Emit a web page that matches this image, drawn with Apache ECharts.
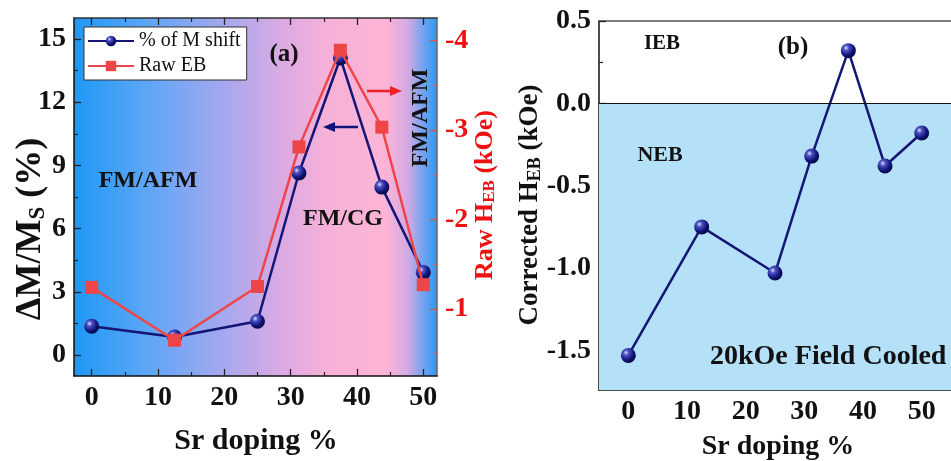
<!DOCTYPE html>
<html>
<head>
<meta charset="utf-8">
<script src="https://cdn.jsdelivr.net/npm/echarts@6/dist/echarts.min.js"></script>
<style>
html,body{margin:0;padding:0;background:#fff;}
#chart{width:951px;height:461px;}
</style>
</head>
<body>
<div id="chart"></div>
<script>
// ---------- data ----------
const srDoping = [0, 12.5, 25, 31.25, 37.5, 43.75, 50];
const mShift = [1.36, 0.85, 1.6, 8.64, 14.1, 7.97, 3.92];          // % of M shift (left axis, panel a)
const rawEB = [-1.24, -0.65, -1.25, -2.81, -3.89, -3.03, -1.27];    // Raw H_EB kOe (right axis, panel a)
const correctedHEB = [-1.53, -0.75, -1.03, -0.32, 0.32, -0.38, -0.18]; // panel b

const xTicksA = [0, 10, 20, 30, 40, 50];
const xMinorA = [5, 15, 25, 35, 45];
const yTicksLeftA = [0, 3, 6, 9, 12, 15];
const yMinorLeftA = [1.5, 4.5, 7.5, 10.5, 13.5];
const yTicksRightA = [-4, -3, -2, -1];
const yMinorRightA = [-3.5, -2.5, -1.5, -0.5];
const xTicksB = [0, 10, 20, 30, 40, 50];
const xMinorB = [5, 15, 25, 35, 45];
const yTicksB = [-1.5, -1.0, -0.5, 0.0, 0.5];
const yMinorB = [-1.25, -0.75, -0.25, 0.25];

const xRangeA = [-2.67, 52.07];
const yRangeLeftA = [-1, 16];
const yRangeRightA = [-4.25, -0.25];
const xRangeB = [-5, 55];
const yRangeB = [-1.74, 0.5];

const FONT = "'Liberation Serif', 'Times New Roman', serif";
const NAVY = '#131675';
const RED = '#EE4646';

const pair = (a, b) => a.map((v, i) => [v, b[i]]);

const sphere = {
  type: 'radial', x: 0.35, y: 0.32, r: 0.7,
  colorStops: [
    {offset: 0, color: '#dfe2ff'},
    {offset: 0.25, color: '#4e53c4'},
    {offset: 0.7, color: '#10147a'},
    {offset: 1, color: '#060840'}
  ]
};

const bgA = {
  type: 'linear', x: 0, y: 0, x2: 1, y2: 0,
  colorStops: [
    {offset: 0, color: '#1E98F5'},
    {offset: 0.2, color: '#5DA6F6'},
    {offset: 0.42, color: '#A8A8EE'},
    {offset: 0.58, color: '#DDAAE2'},
    {offset: 0.7, color: '#F6B1D8'},
    {offset: 0.86, color: '#FDB4D6'},
    {offset: 0.92, color: '#D2AAE4'},
    {offset: 0.965, color: '#6CA2F0'},
    {offset: 1, color: '#2C9AF4'}
  ]
};

const tickLabel = {fontFamily: FONT, fontWeight: 'bold', fontSize: 28, color: '#111'};

function mainX(gridIndex, range, labels, ticks, pos, showLabel, lineColor) {
  return {
    type: 'value', gridIndex, position: pos, min: range[0], max: range[1],
    axisLine: {show: true, onZero: false, lineStyle: {color: lineColor, width: 1.5}},
    axisTick: {show: true, inside: true, length: 7, customValues: ticks, lineStyle: {color: '#222', width: 1.3}},
    axisLabel: Object.assign({show: showLabel, margin: 8, customValues: labels}, tickLabel),
    splitLine: {show: false}
  };
}
function minorAxis(gridIndex, range, ticks, pos, inverse, color) {
  return {
    type: 'value', gridIndex, position: pos, min: range[0], max: range[1], inverse: !!inverse,
    axisLine: {show: false, onZero: false},
    axisTick: {show: true, inside: true, length: 4, customValues: ticks, lineStyle: {color: color || '#222', width: 1.2}},
    axisLabel: {show: false},
    splitLine: {show: false}
  };
}

const option = {
  animation: false,
  backgroundColor: '#fff',
  grid: [
    {left: 74, top: 18, width: 363, height: 358, show: true, backgroundColor: bgA, borderWidth: 0},
    {left: 599, top: 21, width: 363, height: 369, show: false}
  ],
  legend: {
    left: 84, top: 27, orient: 'vertical',
    data: ['% of M shift', 'Raw EB'],
    backgroundColor: '#fff', borderColor: '#333', borderWidth: 1,
    padding: [4, 6, 4, 3], itemGap: 5, itemWidth: 46, itemHeight: 13,
    textStyle: {fontFamily: FONT, fontSize: 20, color: '#111'}
  },
  xAxis: [
    mainX(0, xRangeA, xTicksA, xTicksA, 'bottom', true, '#111'),
    minorAxis(0, xRangeA, xMinorA, 'bottom'),
    mainX(0, xRangeA, [], xTicksA, 'top', false, '#333'),
    minorAxis(0, xRangeA, xMinorA, 'top'),
    mainX(1, xRangeB, xTicksB, [], 'bottom', true, '#111'),
    minorAxis(1, xRangeB, xMinorB, 'bottom'),
    {type: 'value', gridIndex: 1, position: 'top', min: xRangeB[0], max: xRangeB[1],
     axisLine: {show: true, onZero: false, lineStyle: {color: '#555', width: 1.5}},
     axisTick: {show: false}, axisLabel: {show: false}, splitLine: {show: false}}
  ],
  yAxis: [
    mainX(0, yRangeLeftA, yTicksLeftA, yTicksLeftA, 'left', true, '#111'),
    minorAxis(0, yRangeLeftA, yMinorLeftA, 'left'),
    (function () {
      const a = mainX(0, yRangeRightA, yTicksRightA, yTicksRightA, 'right', true, '#666');
      a.inverse = true;
      a.axisLabel.color = '#EE1111';
      a.axisLabel.margin = 8;
      a.axisTick.lineStyle.color = '#E05050';
      return a;
    })(),
    minorAxis(0, yRangeRightA, yMinorRightA, 'right', true, '#E05050'),
    (function () {
      const a = mainX(1, yRangeB, yTicksB, yTicksB, 'left', true, '#111');
      a.axisLabel.formatter = v => v.toFixed(1);
      return a;
    })(),
    minorAxis(1, yRangeB, yMinorB, 'left')
  ],
  series: [
    {
      name: '% of M shift', type: 'line', xAxisIndex: 0, yAxisIndex: 0,
      data: pair(srDoping, mShift),
      symbol: 'circle', symbolSize: 15,
      lineStyle: {color: NAVY, width: 2.5},
      itemStyle: {color: sphere, borderWidth: 0},
      z: 3
    },
    {
      name: 'Raw EB', type: 'line', xAxisIndex: 0, yAxisIndex: 2,
      data: pair(srDoping, rawEB),
      symbol: 'rect', symbolSize: 13,
      lineStyle: {color: RED, width: 2.5},
      itemStyle: {color: RED, borderWidth: 0},
      z: 4
    },
    {
      name: 'Corrected HEB', type: 'line', xAxisIndex: 4, yAxisIndex: 4,
      data: pair(srDoping, correctedHEB),
      symbol: 'circle', symbolSize: 15,
      lineStyle: {color: NAVY, width: 2.5},
      itemStyle: {color: sphere, borderWidth: 0},
      z: 3,
      markArea: {
        silent: true,
        itemStyle: {color: '#B5E1F8'},
        data: [[{yAxis: yRangeB[0]}, {yAxis: 0}]]
      },
      markLine: {
        silent: true, symbol: 'none', label: {show: false},
        lineStyle: {color: '#111', width: 1.2, type: 'solid'},
        data: [{yAxis: 0}]
      }
    }
  ],
  graphic: [
    // axis titles
    {type: 'text', x: 31, y: 229, rotation: Math.PI / 2,
     style: {text: '{n|ΔM/M}{s|S}{n| (%)}', align: 'center', verticalAlign: 'middle',
       rich: {n: {fontFamily: FONT, fontWeight: 'bold', fontSize: 36, fill: '#111', lineHeight: 40},
              s: {fontFamily: FONT, fontWeight: 'bold', fontSize: 23, fill: '#111', lineHeight: 40, padding: [14, 0, 0, 0]}}}},
    {type: 'text', x: 485, y: 195, rotation: Math.PI / 2,
     style: {text: '{n|Raw H}{s|EB}{n| (kOe)}', align: 'center', verticalAlign: 'middle',
       rich: {n: {fontFamily: FONT, fontWeight: 'bold', fontSize: 26, fill: '#EE1111', lineHeight: 30},
              s: {fontFamily: FONT, fontWeight: 'bold', fontSize: 17, fill: '#EE1111', lineHeight: 30, padding: [10, 0, 0, 0]}}}},
    {type: 'text', x: 530, y: 205, rotation: Math.PI / 2,
     style: {text: '{n|Corrected H}{s|EB}{n| (kOe)}', align: 'center', verticalAlign: 'middle',
       rich: {n: {fontFamily: FONT, fontWeight: 'bold', fontSize: 27, fill: '#111', lineHeight: 32},
              s: {fontFamily: FONT, fontWeight: 'bold', fontSize: 18, fill: '#111', lineHeight: 32, padding: [11, 0, 0, 0]}}}},
    {type: 'text', x: 256, y: 441, style: {text: 'Sr doping %', align: 'center', verticalAlign: 'middle',
      fontFamily: FONT, fontWeight: 'bold', fontSize: 30, fill: '#111'}},
    {type: 'text', x: 778, y: 447, style: {text: 'Sr doping %', align: 'center', verticalAlign: 'middle',
      fontFamily: FONT, fontWeight: 'bold', fontSize: 28, fill: '#111'}},
    // panel a annotations
    {type: 'text', x: 284, y: 55, z: 10, style: {text: '(a)', align: 'center', verticalAlign: 'middle',
      fontFamily: FONT, fontWeight: 'bold', fontSize: 25, fill: '#111'}},
    {type: 'text', x: 148, y: 181, z: 10, style: {text: 'FM/AFM', align: 'center', verticalAlign: 'middle',
      fontFamily: FONT, fontWeight: 'bold', fontSize: 24, fill: '#111'}},
    {type: 'text', x: 343, y: 219, z: 10, style: {text: 'FM/CG', align: 'center', verticalAlign: 'middle',
      fontFamily: FONT, fontWeight: 'bold', fontSize: 24, fill: '#111'}},
    {type: 'text', x: 421, y: 118, z: 10, rotation: Math.PI / 2, style: {text: 'FM/AFM', align: 'center', verticalAlign: 'middle',
      fontFamily: FONT, fontWeight: 'bold', fontSize: 24, fill: '#111'}},
    // arrows
    {type: 'line', z: 10, shape: {x1: 367, y1: 91, x2: 392, y2: 91}, style: {stroke: '#EE2222', lineWidth: 2.5}},
    {type: 'polygon', z: 10, shape: {points: [[402, 91], [390, 86], [390, 96]]}, style: {fill: '#EE2222'}},
    {type: 'line', z: 10, shape: {x1: 334, y1: 127, x2: 358, y2: 127}, style: {stroke: '#10147a', lineWidth: 2.5}},
    {type: 'polygon', z: 10, shape: {points: [[323, 127], [335, 122], [335, 132]]}, style: {fill: '#10147a'}},
    // panel b annotations
    {type: 'text', x: 662, y: 44, z: 10, style: {text: 'IEB', align: 'center', verticalAlign: 'middle',
      fontFamily: FONT, fontWeight: 'bold', fontSize: 21, fill: '#111'}},
    {type: 'text', x: 793, y: 48, z: 10, style: {text: '(b)', align: 'center', verticalAlign: 'middle',
      fontFamily: FONT, fontWeight: 'bold', fontSize: 25, fill: '#111'}},
    {type: 'text', x: 660, y: 155, z: 10, style: {text: 'NEB', align: 'center', verticalAlign: 'middle',
      fontFamily: FONT, fontWeight: 'bold', fontSize: 22, fill: '#111'}},
    {type: 'text', x: 710, y: 357, z: 10, style: {text: '20kOe Field Cooled', align: 'left', verticalAlign: 'middle',
      fontFamily: FONT, fontWeight: 'bold', fontSize: 28, fill: '#111'}}
  ]
};

const chart = echarts.init(document.getElementById('chart'), null, {renderer: 'canvas'});
chart.setOption(option);
</script>
</body>
</html>
